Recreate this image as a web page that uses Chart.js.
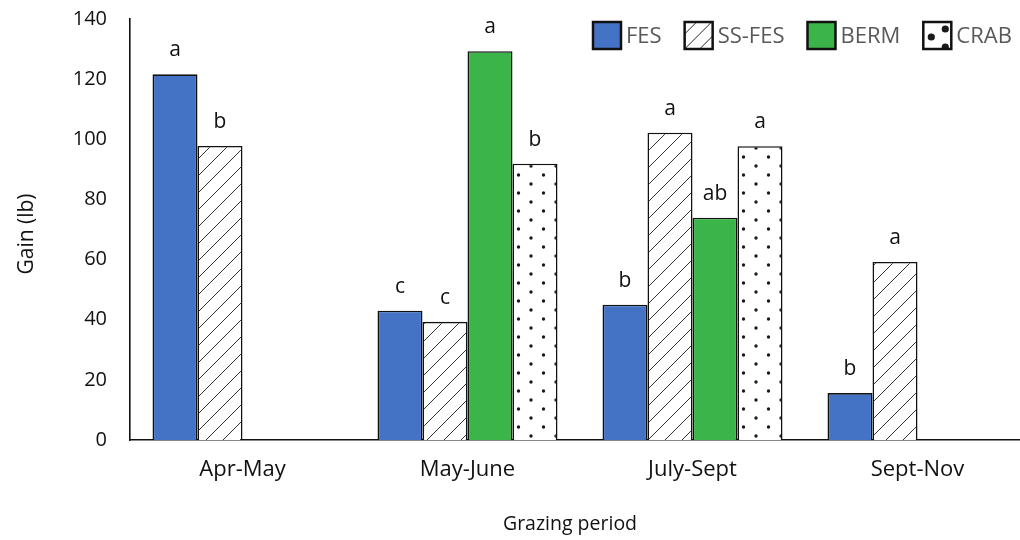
<!DOCTYPE html>
<html>
<head>
<meta charset="utf-8">
<script src="https://cdn.jsdelivr.net/npm/chart.js@4.4.1/dist/chart.umd.min.js"></script>
<style>
  html, body { margin: 0; padding: 0; background: #ffffff; overflow: hidden; width: 1020px; height: 540px; }
  #wrap { position: relative; width: 1030px; height: 540px; }
  canvas { display: block; }
</style>
</head>
<body>
<div id="wrap"><canvas id="c" width="1030" height="540"></canvas></div>
<script>
// ---- data ----
const categories = ['Apr-May', 'May-June', 'July-Sept', 'Sept-Nov'];
const seriesNames = ['FES', 'SS-FES', 'BERM', 'CRAB'];
const fesValues   = [121.6, 43.0, 45.0, 15.6];
const ssfesValues = [97.8, 39.3, 102.2, 59.2];
const bermValues  = [null, 129.3, 73.9, null];
const crabValues  = [null, 91.9, 97.7, null];
const fesLetters   = ['a', 'c', 'b', 'b'];
const ssfesLetters = ['b', 'c', 'a', 'a'];
const bermLetters  = [null, 'a', 'ab', null];
const crabLetters  = [null, 'b', 'a', null];
const yTicks = [0, 20, 40, 60, 80, 100, 120, 140];
const xTitle = 'Grazing period';
const yTitle = 'Gain (lb)';

const FONT = "'Open Sans', 'Noto Sans', sans-serif";

// ---- patterns ----
function hatchPattern(step, color, lw) {
  const t = document.createElement('canvas');
  t.width = step; t.height = step;
  const g = t.getContext('2d');
  g.fillStyle = '#ffffff'; g.fillRect(0, 0, step, step);
  g.strokeStyle = color; g.lineWidth = lw;
  g.beginPath();
  g.moveTo(-1, step + 1); g.lineTo(step + 1, -1);
  g.moveTo(-4, 4); g.lineTo(4, -4);
  g.moveTo(step - 4, step + 4); g.lineTo(step + 4, step - 4);
  g.stroke();
  return g.createPattern(t, 'repeat');
}
function dotPattern() {
  const t = document.createElement('canvas');
  t.width = 25; t.height = 18;
  const g = t.getContext('2d');
  g.fillStyle = '#ffffff'; g.fillRect(0, 0, 25, 18);
  g.fillStyle = '#1a1a1a';
  g.beginPath(); g.arc(6, 4, 1.7, 0, Math.PI * 2); g.fill();
  g.beginPath(); g.arc(18.5, 13, 1.7, 0, Math.PI * 2); g.fill();
  return g.createPattern(t, 'repeat');
}
const ctxMain = document.getElementById('c').getContext('2d');
const hatchFill = hatchPattern(17, '#333333', 1);
const dotFill = dotPattern();
const FES_COLOR = '#4472C4';
const BERM_COLOR = '#3BB44A';

const letterSets = [fesLetters, ssfesLetters, bermLetters, crabLetters];

// ---- plugins ----
const lettersPlugin = {
  id: 'letters',
  afterDatasetsDraw(chart) {
    const ctx = chart.ctx;
    ctx.save();
    ctx.font = '21px ' + FONT;
    ctx.fillStyle = '#111111';
    ctx.textAlign = 'center';
    ctx.textBaseline = 'alphabetic';
    chart.data.datasets.forEach((ds, i) => {
      const meta = chart.getDatasetMeta(i);
      meta.data.forEach((el, j) => {
        const t = letterSets[i][j];
        if (t == null || ds.data[j] == null) return;
        ctx.fillText(t, el.x, el.y - 18);
      });
    });
    ctx.restore();
  }
};

const legendPlugin = {
  id: 'customLegend',
  afterDraw(chart) {
    const ctx = chart.ctx;
    ctx.save();
    ctx.font = '22px ' + FONT;
    ctx.textBaseline = 'middle';
    let x = 593;
    const top = 22, h = 27, w = 28;
    chart.data.datasets.forEach((ds, i) => {
      ctx.save();
      ctx.beginPath(); ctx.rect(x, top, w, h); ctx.clip();
      if (i === 0 || i === 2) {
        ctx.fillStyle = ds.backgroundColor; ctx.fillRect(x, top, w, h);
      } else if (i === 1) {
        ctx.fillStyle = '#fff'; ctx.fillRect(x, top, w, h);
        ctx.strokeStyle = '#222'; ctx.lineWidth = 1;
        ctx.beginPath();
        for (let k = -2; k < 4; k++) {
          const ox = x + k * 15;
          ctx.moveTo(ox, top + h); ctx.lineTo(ox + h, top);
        }
        ctx.stroke();
      } else {
        ctx.fillStyle = '#fff'; ctx.fillRect(x, top, w, h);
        ctx.fillStyle = '#1a1a1a';
        [[8, 15], [22, 7], [22, 25]].forEach(p => {
          ctx.beginPath(); ctx.arc(x + p[0], top + p[1], 3.6, 0, Math.PI * 2); ctx.fill();
        });
      }
      ctx.restore();
      ctx.strokeStyle = '#111'; ctx.lineWidth = 2.5;
      ctx.strokeRect(x, top, w, h);
      ctx.fillStyle = '#595959';
      ctx.textAlign = 'left';
      const tx = x + w + 5;
      ctx.fillText(ds.label, tx, top + h / 2 + 1);
      x = tx + ctx.measureText(ds.label).width + 23;
    });
    ctx.restore();
  }
};

const titlesPlugin = {
  id: 'axisTitles',
  afterDraw(chart) {
    const ctx = chart.ctx;
    ctx.save();
    ctx.fillStyle = '#111111';
    ctx.textAlign = 'center';
    ctx.textBaseline = 'middle';
    ctx.font = '19.5px ' + FONT;
    ctx.fillText(xTitle, 570, 524);
    ctx.font = '21px ' + FONT;
    ctx.translate(27, 234);
    ctx.rotate(-Math.PI / 2);
    ctx.fillText(yTitle, 0, 0);
    ctx.restore();
  }
};

Chart.defaults.font.family = FONT;
Chart.defaults.color = '#111111';

new Chart(ctxMain, {
  type: 'bar',
  data: {
    labels: categories,
    datasets: [
      { label: seriesNames[0], data: fesValues,   backgroundColor: FES_COLOR },
      { label: seriesNames[1], data: ssfesValues, backgroundColor: hatchFill },
      { label: seriesNames[2], data: bermValues,  backgroundColor: BERM_COLOR },
      { label: seriesNames[3], data: crabValues,  backgroundColor: dotFill }
    ].map(d => Object.assign(d, {
      borderColor: '#111111',
      borderWidth: 1.6,
      borderSkipped: 'start',
      categoryPercentage: 0.8,
      barPercentage: 1.0
    }))
  },
  options: {
    responsive: false,
    animation: false,
    events: [],
    layout: { padding: { top: 19, left: 0, right: 0, bottom: 0 } },
    plugins: { legend: { display: false }, tooltip: { enabled: false } },
    scales: {
      x: {
        grid: { display: false, drawTicks: false },
        border: { display: true, color: '#111111', width: 1.6 },
        ticks: { font: { size: 22 }, color: '#111111', padding: 17, maxRotation: 0, autoSkip: false },
        afterFit(s) { s.height = 100; s.paddingLeft = 0; s.paddingRight = 0; }
      },
      y: {
        min: 0, max: 140,
        grid: { display: false, drawTicks: false },
        border: { display: true, color: '#111111', width: 1.6 },
        afterBuildTicks(s) { s.ticks = yTicks.map(v => ({ value: v })); },
        ticks: { font: { size: 20 }, color: '#111111', padding: 23 },
        afterFit(s) { s.width = 130; s.paddingTop = 0; s.paddingBottom = 0; }
      }
    }
  },
  plugins: [lettersPlugin, legendPlugin, titlesPlugin]
});
</script>
</body>
</html>
